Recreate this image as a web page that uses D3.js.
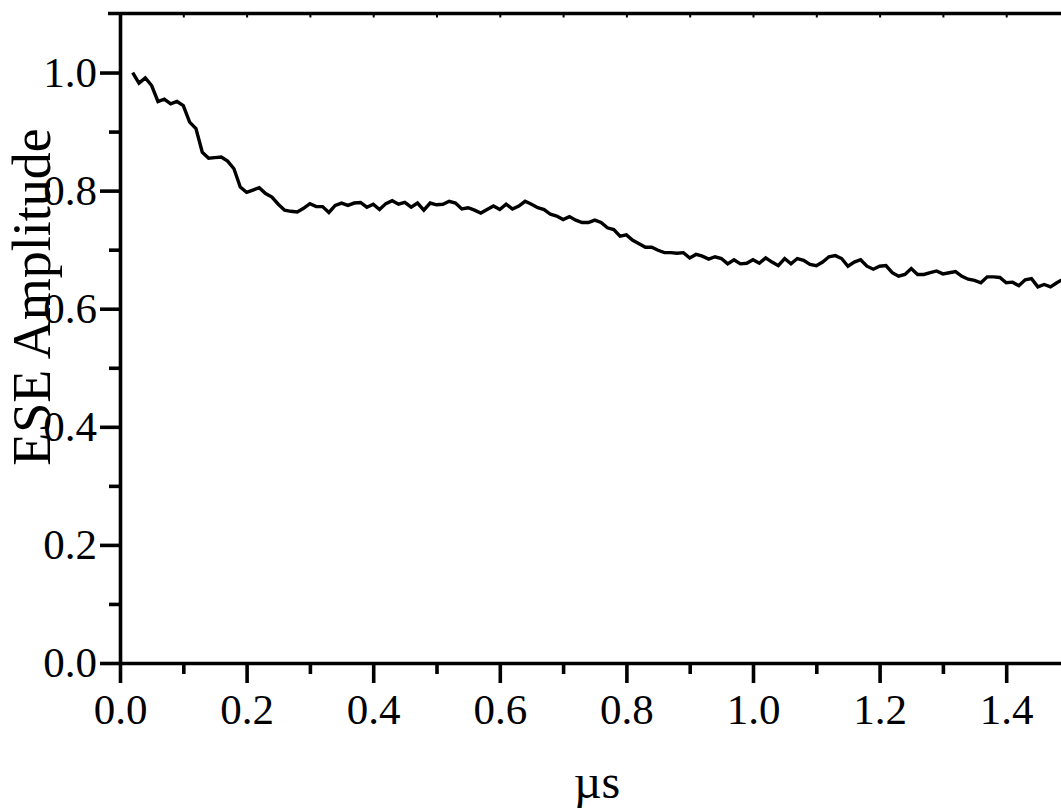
<!DOCTYPE html>
<html>
<head>
<meta charset="utf-8">
<script src="https://cdn.jsdelivr.net/npm/d3@7"></script>
<style>
  html, body { margin: 0; padding: 0; background: #fff; overflow: hidden; }
  svg { display: block; }
  text { font-family: "Liberation Serif", "Times New Roman", serif; fill: #000; }
</style>
</head>
<body>
<svg id="chart" width="1061" height="810"></svg>
<script>
// ---- data ----
const timeUs = [
  0.02,0.03,0.04,0.05,0.06,0.07,0.08,0.09,0.10,0.11,0.12,0.13,0.14,0.15,0.16,0.17,0.18,0.19,0.20,
  0.21,0.22,0.23,0.24,0.25,0.26,0.27,0.28,0.29,0.30,0.31,0.32,0.33,0.34,0.35,0.36,0.37,0.38,0.39,0.40,
  0.41,0.42,0.43,0.44,0.45,0.46,0.47,0.48,0.49,0.50,0.51,0.52,0.53,0.54,0.55,0.56,0.57,0.58,0.59,0.60,
  0.61,0.62,0.63,0.64,0.65,0.66,0.67,0.68,0.69,0.70,0.71,0.72,0.73,0.74,0.75,0.76,0.77,0.78,0.79,0.80,
  0.81,0.82,0.83,0.84,0.85,0.86,0.87,0.88,0.89,0.90,0.91,0.92,0.93,0.94,0.95,0.96,0.97,0.98,0.99,1.00,
  1.01,1.02,1.03,1.04,1.05,1.06,1.07,1.08,1.09,1.10,1.11,1.12,1.13,1.14,1.15,1.16,1.17,1.18,1.19,1.20,
  1.21,1.22,1.23,1.24,1.25,1.26,1.27,1.28,1.29,1.30,1.31,1.32,1.33,1.34,1.35,1.36,1.37,1.38,1.39,1.40,
  1.41,1.42,1.43,1.44,1.45,1.46,1.47,1.48,1.49
];
const eseAmplitude = [
  1.000,0.982,0.991,0.978,0.951,0.955,0.947,0.951,0.944,0.916,0.905,0.865,0.855,0.856,0.857,0.850,0.837,0.806,0.797,
  0.801,0.805,0.795,0.789,0.777,0.767,0.765,0.764,0.770,0.778,0.773,0.773,0.763,0.775,0.779,0.775,0.779,0.780,0.772,0.777,
  0.768,0.778,0.783,0.777,0.780,0.772,0.779,0.767,0.779,0.776,0.777,0.782,0.779,0.769,0.771,0.767,0.762,0.768,0.774,0.768,
  0.777,0.769,0.774,0.782,0.777,0.771,0.768,0.760,0.757,0.751,0.756,0.750,0.746,0.746,0.750,0.746,0.737,0.734,0.723,0.725,
  0.716,0.710,0.704,0.704,0.699,0.695,0.695,0.694,0.695,0.686,0.692,0.689,0.684,0.688,0.685,0.676,0.683,0.676,0.677,0.683,
  0.677,0.686,0.679,0.673,0.685,0.676,0.685,0.682,0.675,0.673,0.679,0.688,0.690,0.685,0.672,0.679,0.683,0.672,0.667,0.672,
  0.673,0.661,0.655,0.658,0.668,0.658,0.658,0.661,0.664,0.659,0.661,0.663,0.655,0.650,0.648,0.644,0.654,0.654,0.653,0.644,
  0.645,0.639,0.649,0.651,0.637,0.641,0.637,0.644,0.650
];
const xTickValues = [0.0, 0.2, 0.4, 0.6, 0.8, 1.0, 1.2, 1.4];
const xMinorValues = [0.1, 0.3, 0.5, 0.7, 0.9, 1.1, 1.3, 1.5];
const yTickValues = [0.0, 0.2, 0.4, 0.6, 0.8, 1.0];
const yMinorValues = [0.1, 0.3, 0.5, 0.7, 0.9];
const xTitle = "\u00B5s";
const yTitle = "ESE Amplitude";

// ---- layout ----
(function () {
const svg = d3.select("#chart");
const padLeft = 120, padBottom = 663, padTop = 13.5;
const x = d3.scaleLinear().domain([0, 1.5]).range([padLeft, padLeft + 1.5 * 633]);
const y = d3.scaleLinear().domain([0, 1.1]).range([padBottom, padTop]);

const axisStroke = 3.6;

// top border with tiny inward ticks
const topAxis = d3.axisBottom(x)
  .tickValues(d3.merge([xTickValues, xMinorValues]))
  .tickSize(4).tickSizeOuter(0).tickFormat("");
const gTop = svg.append("g").attr("transform", `translate(0,${y(1.1)})`).call(topAxis);
gTop.select(".domain").remove();
gTop.selectAll("line").attr("stroke", "#000").attr("stroke-width", 2);
svg.append("line")
  .attr("x1", padLeft - 12).attr("x2", x(1.5))
  .attr("y1", y(1.1)).attr("y2", y(1.1))
  .attr("stroke", "#000").attr("stroke-width", axisStroke);

// bottom axis
const xAxis = d3.axisBottom(x).tickValues(xTickValues).tickSize(20).tickSizeOuter(0)
  .tickPadding(10).tickFormat(d3.format(".1f"));
const gx = svg.append("g").attr("transform", `translate(0,${padBottom})`).call(xAxis);
gx.select(".domain").attr("stroke-width", axisStroke);
gx.selectAll(".tick line").attr("stroke-width", axisStroke);
gx.selectAll(".tick text").attr("font-size", 43)
  .attr("font-family", "Liberation Serif, Times New Roman, serif");
const xMinor = d3.axisBottom(x).tickValues(xMinorValues).tickSize(11).tickSizeOuter(0).tickFormat("");
const gxm = svg.append("g").attr("transform", `translate(0,${padBottom})`).call(xMinor);
gxm.select(".domain").remove();
gxm.selectAll(".tick line").attr("stroke-width", axisStroke);

// left axis
const yAxis = d3.axisLeft(y).tickValues(yTickValues).tickSize(20).tickSizeOuter(0)
  .tickPadding(3).tickFormat(d3.format(".1f"));
const gy = svg.append("g").attr("transform", `translate(${padLeft},0)`).call(yAxis);
gy.select(".domain").attr("stroke-width", axisStroke);
gy.selectAll(".tick line").attr("stroke-width", axisStroke);
gy.selectAll(".tick text").attr("font-size", 43)
  .attr("font-family", "Liberation Serif, Times New Roman, serif");
const yMinor = d3.axisLeft(y).tickValues(yMinorValues).tickSize(11).tickSizeOuter(0).tickFormat("");
const gym = svg.append("g").attr("transform", `translate(${padLeft},0)`).call(yMinor);
gym.select(".domain").remove();
gym.selectAll(".tick line").attr("stroke-width", axisStroke);

// data line
const series = timeUs.map((t, i) => ({ t, v: eseAmplitude[i] }));
svg.append("path")
  .datum(series)
  .attr("fill", "none")
  .attr("stroke", "#000")
  .attr("stroke-width", 3.4)
  .attr("stroke-linejoin", "miter")
  .attr("d", d3.line().x(d => x(d.t)).y(d => y(d.v)));

// titles
svg.append("text")
  .attr("x", 597).attr("y", 798)
  .attr("text-anchor", "middle")
  .attr("font-size", 48)
  .text(xTitle);

svg.append("text")
  .attr("transform", "translate(50,297) rotate(-90)")
  .attr("text-anchor", "middle")
  .attr("font-size", 54)
  .text(yTitle);
})();
</script>
</body>
</html>
